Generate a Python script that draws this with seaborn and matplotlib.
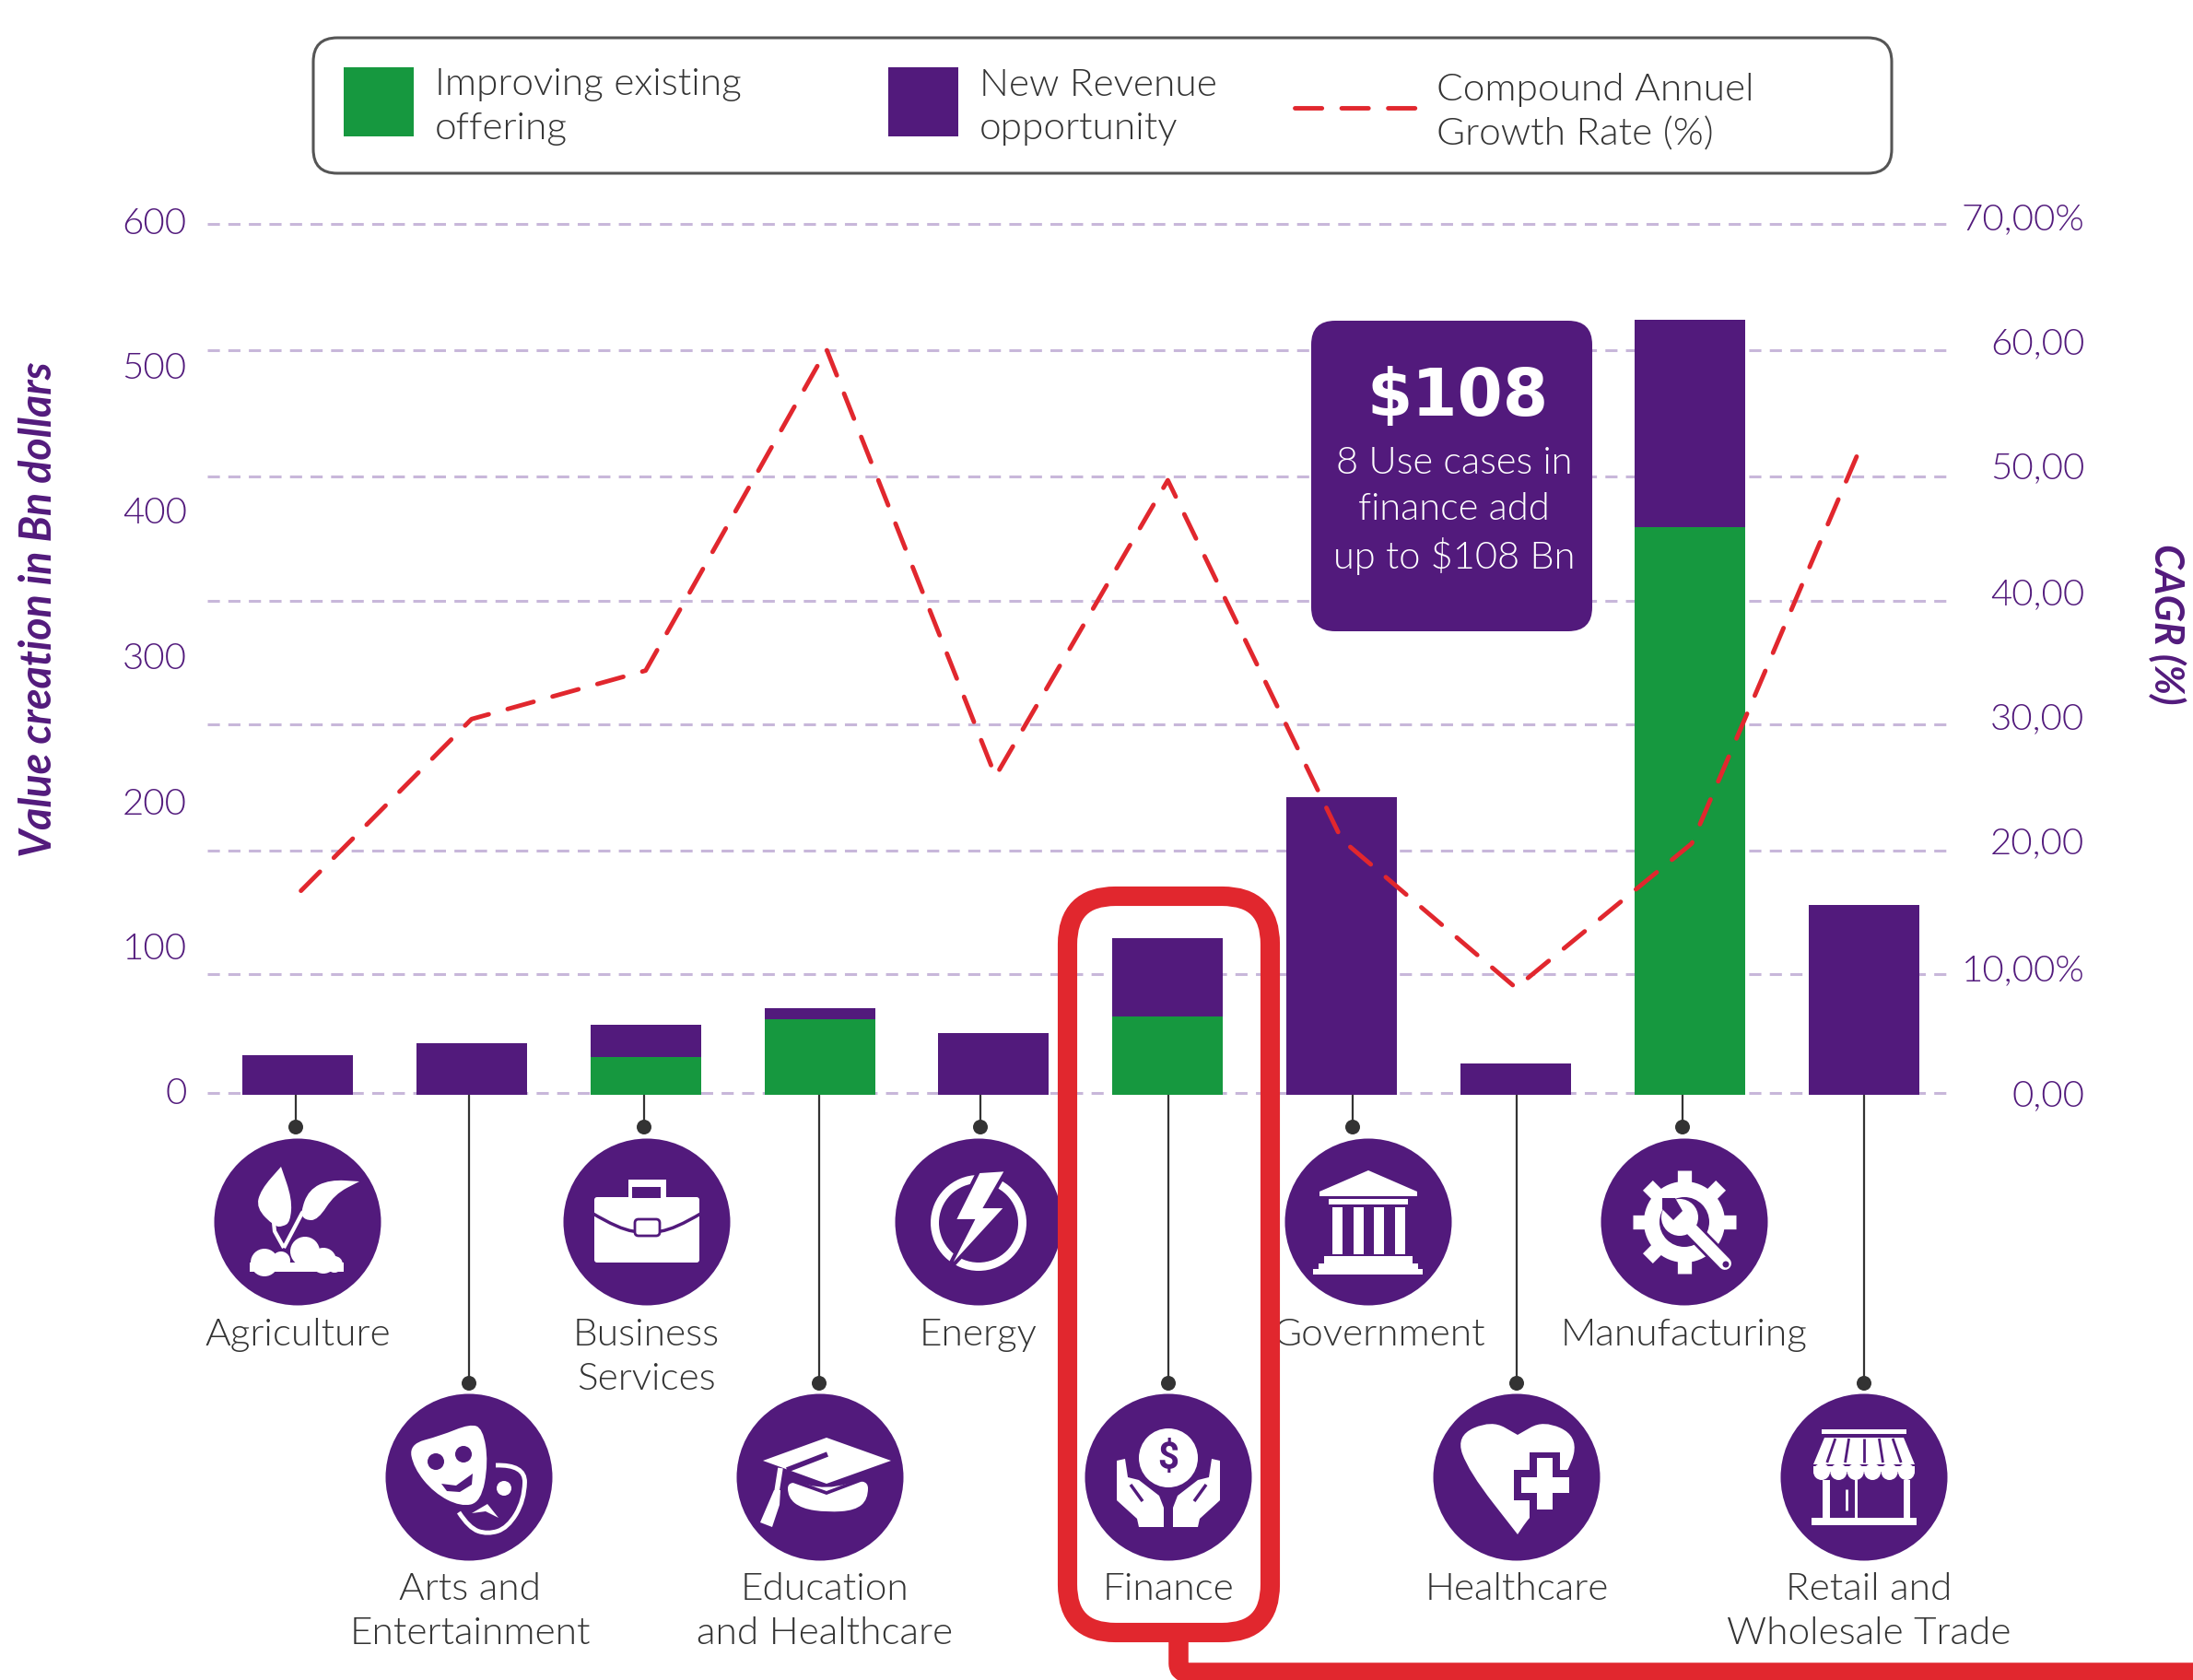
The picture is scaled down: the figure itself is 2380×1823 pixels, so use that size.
import numpy as np
import pandas as pd
import matplotlib
matplotlib.use("Agg")
import matplotlib.pyplot as plt
import seaborn as sns
from matplotlib.patches import Circle, FancyBboxPatch, PathPatch, Polygon, Rectangle, Wedge
from matplotlib.path import Path
from matplotlib.transforms import ScaledTranslation

# values
sectors = ["Agriculture", "Arts and\nEntertainment", "Business\nServices", "Education\nand Healthcare",
           "Energy", "Finance", "Government", "Healthcare", "Manufacturing", "Retail and\nWholesale Trade"]
improving = [0, 0, 26, 52, 0, 54, 0, 0, 391, 0]
new_revenue = [27, 35.6, 22, 8, 42.5, 54, 205, 21.6, 143, 131]
cagr = [16.4, 30.2, 34.1, 59.9, 25.6, 49.4, 20.5, 8.6, 20.2, 52.7]

left_ticks = [0, 100, 200, 300, 400, 500, 600]
right_ticks = [0, 10, 20, 30, 40, 50, 60, 70]
right_labels = ["0,00", "10,00%", "20,00", "30,00", "40,00", "50,00", "60,00", "70,00%"]
grid_levels = [0.15, 9.7, 19.6, 29.8, 39.7, 49.7, 59.85, 70]

PURPLE = "#521A7C"
GREEN = "#16983F"
RED = "#E1272E"
DARK = "#333333"
GRID = "#C8B7DA"
FONT = "Lato"

sns.set_style("white")
plt.rcParams["font.family"] = [FONT, "DejaVu Sans"]
plt.rcParams["font.weight"] = 300

W, H = 2380, 1823
fig = plt.figure(figsize=(W / 100, H / 100), dpi=100)

# main axes, box is in pixels of the picture
ax = fig.add_axes([225 / W, 1 - 1188 / H, 1890 / W, 945 / H])
ax.set_zorder(1)
ax.patch.set_visible(False)

df = pd.DataFrame({"sector": sectors, "improving": improving, "new": new_revenue, "cagr": cagr})
df["total"] = df["improving"] + df["new"]

sns.barplot(data=df, x="sector", y="total", color=PURPLE, saturation=1, width=0.635, linewidth=0, ax=ax, zorder=3)
sns.barplot(data=df, x="sector", y="improving", color=GREEN, saturation=1, width=0.635, linewidth=0, ax=ax, zorder=4)
ax.hlines([g * 600 / 70 for g in grid_levels], -0.518, 9.487, color=GRID, lw=2.2,
          linestyles=(0, (4.3, 3)), zorder=1, clip_on=False)

ax.set_xlim(-0.518, 9.487)
ax.set_ylim(0, 600)
ax.set_xticks([])
ax.set_xlabel("")
ax.set_yticks(left_ticks, [str(v) for v in left_ticks])
ax.tick_params(axis="y", length=0, pad=16, labelsize=29, labelcolor=PURPLE)
for lab in ax.get_yticklabels():
    lab.set_transform(lab.get_transform() + ScaledTranslation(0, 0.04, fig.dpi_scale_trans))
ax.set_ylabel("Value creation in Bn dollars", fontsize=33.5, color=PURPLE, fontweight="bold",
              fontstyle="italic", va="center")
ax.yaxis.set_label_coords(-0.097, 0.557)

ax2 = ax.twinx()
ax2.set_zorder(2)
ax2.patch.set_visible(False)
line_x = [i + d for i, d in enumerate([0.02, 0, 0, 0.04, 0.01, 0, 0, 0, 0.01, 0])]
sns.lineplot(x=line_x, y=cagr, color=RED, lw=3.5, linestyle=(0, (6, 4.4)),
             dash_capstyle="round", ax=ax2)
ax2.set_ylim(0, 70)
ax2.set_yticks(right_ticks, right_labels)
ax2.tick_params(axis="y", length=0, pad=106, labelsize=29, labelcolor=PURPLE)
shifts = [2, 3, 6, 6, 6, 8, 8, 8]
for lab, s in zip(ax2.get_yticklabels(), shifts):
    lab.set_ha("right")
    lab.set_transform(lab.get_transform() + ScaledTranslation(0, s / 100, fig.dpi_scale_trans))
ax2.set_ylabel("CAGR (%)", fontsize=31, color=PURPLE, fontweight="bold", fontstyle="italic",
               rotation=270, va="center")
ax2.yaxis.set_label_coords(1.125, 0.54)

for a in (ax, ax2):
    for sp in a.spines.values():
        sp.set_visible(False)

# overlay in picture pixels for legend, icons and the frame
ov = fig.add_axes([0, 0, 1, 1])
ov.set_zorder(3)
ov.patch.set_visible(False)
ov.set_xlim(0, W)
ov.set_ylim(H, 0)
ov.axis("off")


def txt(x, y, s, size=30.5, color=DARK, ha="center", **kw):
    ov.text(x, y, s, fontsize=size, color=color, ha=ha, va="center", linespacing=1.05, zorder=8, **kw)


def poly(cx, cy, pts, fc="white", z=6):
    ov.add_patch(Polygon([(cx + a, cy + b) for a, b in pts], closed=True, fc=fc, ec="none", zorder=z))


def smooth(cx, cy, pts, fc="white", ec="none", lw=0, z=6, closed=True):
    p = [(cx + a, cy + b) for a, b in pts]
    if closed:
        mid = [((p[i][0] + p[(i + 1) % len(p)][0]) / 2, (p[i][1] + p[(i + 1) % len(p)][1]) / 2) for i in range(len(p))]
        verts = [mid[-1]]
        codes = [Path.MOVETO]
        for i in range(len(p)):
            verts += [p[i], mid[i]]
            codes += [Path.CURVE3, Path.CURVE3]
    else:
        verts = [p[0]]
        codes = [Path.MOVETO]
        for i in range(1, len(p) - 1):
            end = p[-1] if i == len(p) - 2 else ((p[i][0] + p[i + 1][0]) / 2, (p[i][1] + p[i + 1][1]) / 2)
            verts += [p[i], end]
            codes += [Path.CURVE3, Path.CURVE3]
    ov.add_patch(PathPatch(Path(verts, codes), fc=fc if closed else "none", ec=ec, lw=lw, zorder=z))


def rect(cx, cy, x0, x1, y0, y1, fc="white", z=6):
    ov.add_patch(Rectangle((cx + x0, cy + y0), x1 - x0, y1 - y0, fc=fc, ec="none", zorder=z))


def dot(cx, cy, x, y, r, fc="white", z=6):
    ov.add_patch(Circle((cx + x, cy + y), r, fc=fc, ec="none", zorder=z))


def seg(cx, cy, pts, color="white", lw=3, z=6, cap="butt"):
    xs = [cx + p[0] for p in pts]
    ys = [cy + p[1] for p in pts]
    ov.plot(xs, ys, color=color, lw=lw, solid_capstyle=cap, zorder=z)


def plant(x, y):
    smooth(x, y, [(-18, -60), (-18, -60), (-6, -25), (-8, 0), (-16, 5), (-25, 5), (-45, -15), (-40, -35)])
    seg(x, y, [(-28, -20), (-25, 10), (-15, 28)], lw=3)
    smooth(x, y, [(67, -44), (67, -44), (35, -46), (12, -35), (3, -10), (8, -2), (22, -2), (40, -30)])
    seg(x, y, [(-15, 28), (5, -10), (30, -30)], lw=3)
    for c in [(-36, 44, 15), (-18, 42, 10), (8, 32, 16), (28, 42, 14), (40, 46, 9)]:
        dot(x, y, c[0], c[1], c[2])
    rect(x, y, -52, 50, 44, 54)


def briefcase(x, y):
    ov.add_patch(FancyBboxPatch((x - 57, y - 27), 114, 71, boxstyle="round,pad=0,rounding_size=3", fc="white", ec="none", zorder=6))
    rect(x, y, -20, 21, -46, -26)
    rect(x, y, -16, 15, -38, -26, fc=PURPLE)
    smooth(x, y, [(-60, -10), (-30, 8), (0, 12), (30, 8), (60, -10)], ec=PURPLE, lw=2.5, closed=False, z=7)
    ov.add_patch(FancyBboxPatch((x - 13, y - 3), 27, 18, boxstyle="round,pad=0,rounding_size=4", fc="white", ec=PURPLE, lw=2, zorder=8))


def energy(x, y):
    ov.add_patch(Wedge((x, y + 1), 52, 0, 360, width=9, fc="white", ec="none", zorder=6))
    ov.add_patch(Polygon([(x + a, y + b) for a, b in [(0, -55), (31, -57), (8, -17), (31, -17), (-36, 56), (-7, -1), (-27, -1)]],
                         closed=True, fc="white", ec=PURPLE, lw=3, zorder=7))


def government(x, y):
    poly(x, y, [(0, -56), (53, -33), (53, -28), (-53, -28), (-53, -33)])
    rect(x, y, -43, 43, -25, -19)
    for c in [-34, -11, 11, 34]:
        rect(x, y, c - 5.5, c + 5.5, -16, 35)
    rect(x, y, -48, 48, 37, 45)
    rect(x, y, -54, 54, 45, 51)
    rect(x, y, -60, 59, 51, 57)


def gear(x, y):
    dot(x, y, 0, 0, 44)
    for k in range(8):
        a = k * np.pi / 4 + np.pi / 2
        seg(x, y, [(38 * np.cos(a), 38 * np.sin(a)), (56 * np.cos(a), 56 * np.sin(a))], lw=11)
    dot(x, y, 0, 0, 27, fc=PURPLE, z=7)
    seg(x, y, [(0, 0), (44, 45)], color=PURPLE, lw=14, z=7)
    dot(x, y, -5, -5, 20, z=8)
    seg(x, y, [(-2, -2), (44, 45)], lw=10, z=8, cap="round")
    poly(x, y, [(-24, -14), (-12, -2), (-2, -12), (-10, -26), (-24, -26)], fc=PURPLE, z=9)
    dot(x, y, 45, 46, 3.5, fc=PURPLE, z=9)


def masks(x, y):
    seg_pts = [(29, -13), (61, -14), (60, 25), (42, 55), (20, 62), (0, 55), (-11, 38)]
    smooth(x, y, seg_pts, ec="white", lw=3.5, closed=False)
    smooth(x, y, [(-65, -36), (-31, -45), (1, -58), (15, -53), (21, -16), (13, 27), (-9, 32), (-38, 17), (-60, -10)], z=7)
    dot(x, y, -36, -17, 9, fc=PURPLE, z=8)
    dot(x, y, -6, -25, 9, fc=PURPLE, z=8)
    poly(x, y, [(-30, 7), (-14, 9), (4, -4), (3, 8), (-10, 16), (-24, 15)], fc=PURPLE, z=8)
    dot(x, y, 38, 12, 8)
    poly(x, y, [(3, 39), (20, 29), (32, 44), (18, 37)])


def grad_cap(x, y):
    poly(x, y, [(7, -43), (77, -18), (7, 7), (-62, -18)])
    smooth(x, y, [(-35, 2), (7, 14), (52, 0), (52, 24), (38, 36), (8, 38), (-20, 34), (-35, 22)])
    poly(x, y, [(-35, 0), (7, 15), (52, -2), (52, 2), (7, 19), (-35, 4)], fc=PURPLE, z=7)
    seg(x, y, [(8, -25), (-36, -8)], color=PURPLE, lw=4, z=7)
    seg(x, y, [(-43, -10), (-48, 22)], lw=4)
    poly(x, y, [(-50, 14), (-43, 14), (-44, 30), (-52, 54), (-65, 49)])


def finance(x, y):
    dot(x, y, 0, -21, 32)
    ov.text(x, y - 20, "$", fontsize=29, fontweight="bold", color=PURPLE, ha="center", va="center", zorder=8, family="Roboto")
    left = [(-56, -18), (-47, -20), (-44, 0), (-32, 3), (-10, 20), (-5, 33), (-5, 54), (-32, 54), (-34, 45), (-56, 25)]
    for sgn in (1, -1):
        poly(x, y, [(sgn * a, b) for a, b in left])
        seg(x, y, [(sgn * -41, 8), (sgn * -28, 26)], color=PURPLE, lw=2.5, z=7)


def heart(x, y):
    smooth(x, y, [(-27, -62), (1, -46), (1, -46), (29, -62), (66, -45), (58, -6), (14, 43), (1, 62), (1, 62), (-52, -6), (-66, -45)])
    rect(x, y, 14, 62, 25, 62, fc=PURPLE, z=7)
    rect(x, y, 14, 47, -27, 41, fc=PURPLE, z=7)
    rect(x, y, -3, 65, -8, 25, fc=PURPLE, z=7)
    rect(x, y, 22, 39, -21, 35, z=8)
    rect(x, y, 5, 57, 0, 17, z=8)


def store(x, y):
    rect(x, y, -46, 46, -52, -47)
    poly(x, y, [(-43, -43), (43, -43), (55, -14), (-55, -14)])
    for a, b in [(-38, -49), (-20, -25), (0, 0), (20, 25), (38, 49)]:
        seg(x, y, [(a * 0.82, -42), (b * 0.82, -16)], color=PURPLE, lw=2)
    rect(x, y, -55, 55, -12, -6)
    for c in np.linspace(-46, 46, 6):
        dot(x, y, c, -6, 9)
    rect(x, y, -45, -37, 3, 45)
    rect(x, y, 43, 50, 3, 45)
    rect(x, y, -10, -7, 3, 45)
    seg(x, y, [(-19, 13), (-19, 36)], lw=2)
    rect(x, y, -57, 57, 44, 52)


# x of the stem, x of the circle, x of the label, icon
stem_x = [321, 509, 699, 889, 1064, 1268, 1468, 1646, 1826, 2023]
circle_x = [323, 509, 702, 890, 1062, 1268, 1485, 1646, 1828, 2023]
label_x = [323, 510, 701, 895, 1062, 1268, 1497, 1646, 1828, 2028]
row = [0, 1, 0, 1, 0, 1, 0, 1, 0, 1]
icons = [plant, masks, briefcase, grad_cap, energy, finance, government, heart, gear, store]

for i, s in enumerate(sectors):
    dot_y = 1501 if row[i] else 1223
    cy = 1603 if row[i] else 1326
    seg(stem_x[i], 0, [(0, 1188), (0, dot_y)], color=DARK, lw=1.6, z=2)
    dot(stem_x[i], dot_y, 0, 0, 8, fc=DARK, z=3)
    dot(circle_x[i], cy, 0, 0, 90.5, fc=PURPLE, z=5)
    icons[i](circle_x[i], cy)
    first = 1730 if row[i] else 1454
    ov.text(label_x[i], first - 24, s, fontsize=30.5, color=DARK, ha="center", va="top", linespacing=1.35, zorder=8)

# legend
ov.add_patch(FancyBboxPatch((340, 41), 1713, 147, boxstyle="round,pad=0,rounding_size=26", fc="white", ec="#555555", lw=2.2, zorder=1))
ov.add_patch(Rectangle((373, 73), 76, 75, fc=GREEN, ec="none", zorder=2))
ov.add_patch(Rectangle((964, 73), 76, 75, fc=PURPLE, ec="none", zorder=2))
ov.plot([1405, 1542], [117, 117], color=RED, lw=3.5, linestyle=(0, (6, 4.4)), dash_capstyle="round", zorder=2)
for x, y, s in [(472, 92, "Improving existing"), (472, 140, "offering"), (1063, 93, "New Revenue"), (1063, 140, "opportunity"),
                (1559, 98, "Compound Annuel"), (1559, 146, "Growth Rate (%)")]:
    txt(x, y, s, ha="left")

# callout
ov.add_patch(FancyBboxPatch((1423, 348), 305, 337, boxstyle="round,pad=0,rounding_size=26", fc=PURPLE, ec="none", zorder=5))
ov.text(1582, 431, "$108", fontsize=51, fontweight="bold", color="white", ha="center", va="center", family="DejaVu Sans", zorder=6)
for y, s in [(502, "8 Use cases in"), (552, "finance add"), (603, "up to $108 Bn")]:
    txt(1578, y, s, size=30, color="white")

# red frame around finance
ov.add_patch(FancyBboxPatch((1158.5, 972.5), 220, 799, boxstyle="round,pad=0,rounding_size=52", fc="none", ec=RED, lw=15.2, zorder=10))
conn = Path([(1279, 1775), (1279, 1805), (1279, 1815), (1290, 1815), (2390, 1815)],
            [Path.MOVETO, Path.LINETO, Path.CURVE3, Path.CURVE3, Path.LINETO])
ov.add_patch(PathPatch(conn, fc="none", ec=RED, lw=15.5, joinstyle="round", zorder=10))

fig.savefig("out.png", dpi=100)
